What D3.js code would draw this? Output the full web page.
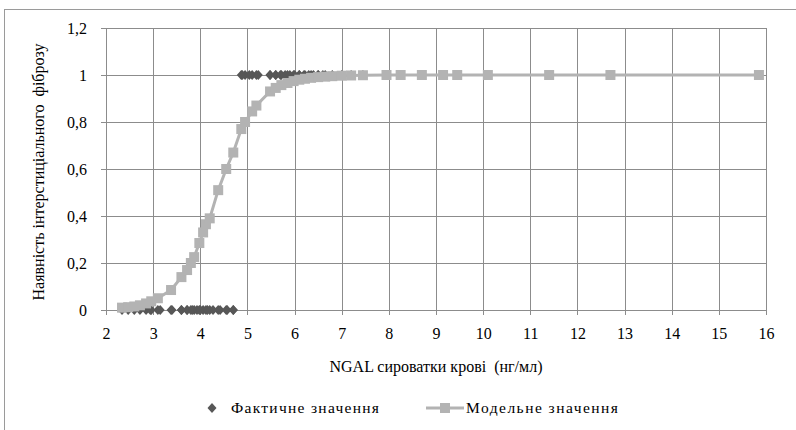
<!DOCTYPE html>
<html><head><meta charset="utf-8">
<script src="https://cdn.jsdelivr.net/npm/d3@7"></script>
<style>body{margin:0;background:#fff}svg{display:block}svg text{white-space:pre}</style>
</head><body>
<svg id="c" width="796" height="430" style="font-family:'Liberation Serif', 'DejaVu Serif', serif"></svg>
<script>
// NGAL serum values (ng/ml)
const ngal = [2.34,2.47,2.6,2.72,2.85,2.96,3.1,3.38,3.6,3.72,3.8,3.87,3.98,4.06,4.12,4.2,4.38,4.55,4.7,
  4.87,4.95,5.1,5.19,5.48,5.6,5.72,5.85,5.98,6.1,6.22,6.35,6.5,6.65,6.8,7.0,7.2,7.45,
  7.95,8.25,8.7,9.15,9.45,10.1,11.4,12.7,15.85];
// Actual presence of fibrosis (0/1)
const actual = [0,0,0,0,0,0,0,0,0,0,0,0,0,0,0,0,0,0,0,
  1,1,1,1,1,1,1,1,1,1,1,1,1,1,1,1,1,1,
  1,1,1,1,1,1,1,1,1];
// Extra visible actual points
const actualExtraX = [2.94,3.15,3.4,3.6,3.72,3.83,3.93,4.0,4.15,4.27,4.42,4.57,4.7, 4.89,5.04,5.23,5.48,5.6,5.7,5.8,5.9,6.0,6.1,6.2,6.3,6.4,6.5,6.6];
const actualExtraY = [0,0,0,0,0,0,0,0,0,0,0,0,0, 1,1,1,1,1,1,1,1,1,1,1,1,1,1,1];
// Model-predicted values
const model = [0.01,0.012,0.015,0.02,0.028,0.037,0.05,0.085,0.14,0.17,0.2,0.225,0.285,0.33,0.365,0.39,0.51,0.6,0.67,
  0.77,0.8,0.845,0.87,0.93,0.945,0.957,0.966,0.974,0.98,0.984,0.988,0.991,0.993,0.995,0.997,0.998,0.999,
  1,1,1,1,1,1,1,1,1];
const xTicks = [2,3,4,5,6,7,8,9,10,11,12,13,14,15,16];
const yTicks = [0,0.2,0.4,0.6,0.8,1,1.2];
const yTitle = "Наявність інтерстиціального  фіброзу";
const xTitle = "NGAL сироватки крові  (нг/мл)";
const legendLabels = ["Фактичне значення","Модельне значення"];

const FONT = "Liberation Serif";
const svg = d3.select("#c");
const L=106,R=766,T=28,B=310;
const x = d3.scaleLinear().domain([2,16]).range([L,R]);
const y = d3.scaleLinear().domain([0,1.2]).range([B,T]);
const gridC = "#8c8c8c", sqC = "#b3b3b3", dmC = "#575757";

svg.append("rect").attr("x",4.5).attr("y",9.5).attr("width",900).attr("height",900)
  .attr("fill","none").attr("stroke","#9a9a9a");

// gridlines
svg.append("g").selectAll("line").data(xTicks).join("line")
  .attr("x1",d=>Math.round(x(d))+0.5).attr("x2",d=>Math.round(x(d))+0.5).attr("y1",T).attr("y2",B+5)
  .attr("stroke",gridC);
svg.append("g").selectAll("line").data(yTicks).join("line")
  .attr("y1",d=>Math.round(y(d))+0.5).attr("y2",d=>Math.round(y(d))+0.5).attr("x1",L-5).attr("x2",R)
  .attr("stroke",gridC);

// axes labels
const xa = svg.append("g").attr("transform",`translate(0,${B})`)
  .call(d3.axisBottom(x).tickValues(xTicks).tickSize(0).tickPadding(18).tickFormat(d3.format("d")));
xa.select(".domain").remove();
xa.attr("font-family",null);
xa.selectAll("text").style("font-family",FONT).attr("font-size",16).attr("fill","#000");
const ya = svg.append("g").attr("transform",`translate(${L},0)`)
  .call(d3.axisLeft(y).tickValues(yTicks).tickSize(0).tickPadding(19).tickFormat(d=>d3.format("~g")(d).replace(".",",")));
ya.select(".domain").remove();
ya.attr("font-family",null);
ya.selectAll("text").style("font-family",FONT).attr("font-size",16).attr("fill","#000");

svg.append("text").attr("transform","translate(44,172) rotate(-90)").attr("text-anchor","middle")
  .style("font-family",FONT).attr("font-size",16).text(yTitle);
svg.append("text").attr("x",436).attr("y",372).attr("text-anchor","middle")
  .style("font-family",FONT).attr("font-size",16).text(xTitle);

const diamond = (cx,cy,w=9,h=10)=>`M${cx},${cy-h/2}L${cx+w/2},${cy}L${cx},${cy+h/2}L${cx-w/2},${cy}Z`;

// actual points
const ax = ngal.concat(actualExtraX), ay = actual.concat(actualExtraY);
svg.append("g").selectAll("path").data(d3.range(ax.length)).join("path")
  .attr("d",i=>diamond(x(ax[i]),y(ay[i]))).attr("fill",dmC);

// model
svg.append("path").datum(d3.range(ngal.length))
  .attr("d",d3.line().x(i=>x(ngal[i])).y(i=>y(model[i])))
  .attr("fill","none").attr("stroke",sqC).attr("stroke-width",3);
svg.append("g").selectAll("rect").data(d3.range(ngal.length)).join("rect")
  .attr("x",i=>x(ngal[i])-5).attr("y",i=>y(model[i])-5).attr("width",10).attr("height",10).attr("fill",sqC);

// legend
const ly = 408;
svg.append("path").attr("d",diamond(212,ly,9,10)).attr("fill",dmC);
svg.append("text").attr("x",231).attr("y",ly+5).style("font-family",FONT).attr("font-size",15.5)
  .attr("textLength",148).attr("lengthAdjust","spacing").text(legendLabels[0]);
svg.append("line").attr("x1",426).attr("x2",464).attr("y1",ly).attr("y2",ly).attr("stroke",sqC).attr("stroke-width",3);
svg.append("rect").attr("x",440).attr("y",ly-5).attr("width",10).attr("height",10).attr("fill",sqC);
svg.append("text").attr("x",466).attr("y",ly+5).style("font-family",FONT).attr("font-size",15.5)
  .attr("textLength",152).attr("lengthAdjust","spacing").text(legendLabels[1]);
</script>
</body></html>
